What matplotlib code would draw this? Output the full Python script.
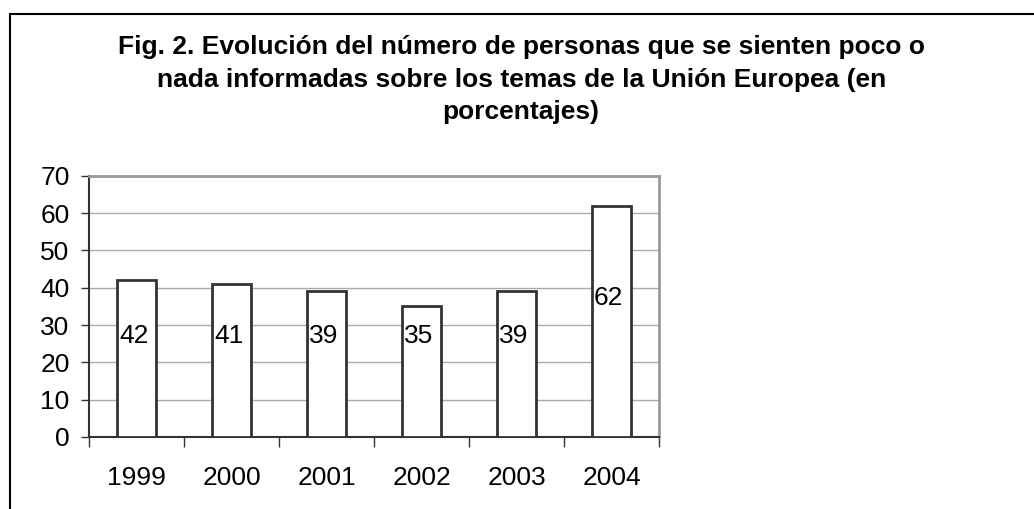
import matplotlib.pyplot as plt
from matplotlib.lines import Line2D
import numpy as np

plt.rcParams["font.family"] = ["Liberation Sans", "DejaVu Sans"]

years = ["1999", "2000", "2001", "2002", "2003", "2004"]
values = [42, 41, 39, 35, 39, 62]
title = ("Fig. 2. Evolución del número de personas que se sienten poco o\n"
         "nada informadas sobre los temas de la Unión Europea (en\n"
         "porcentajes)")

fig = plt.figure(figsize=(10.34, 5.09), dpi=100)
ax = fig.add_axes([0.0861, 0.1415, 0.5513, 0.5133])

x = np.arange(len(years))
ax.bar(x, values, width=0.41, color="white", edgecolor="#333333", linewidth=2.0, zorder=3)

# data labels, roughly where Excel put them (left side of the bar)
for xi, v in zip(x, values):
    ax.text(xi - 0.205 + 0.02, max(27, v * 0.6), str(v), ha="left", va="center",
            fontsize=19, color="black", zorder=4)

ax.set_xlim(-0.5, len(years) - 0.5)
ax.set_ylim(0, 70)
ax.set_yticks(range(0, 71, 10))
ax.yaxis.grid(True, color="#aaaaaa", linewidth=1.0, zorder=0)
ax.set_axisbelow(True)

# tick marks between categories, labels at centres
ax.set_xticks(np.arange(-0.5, len(years), 1.0))
ax.set_xticklabels([])
ax.set_xticks(x, minor=True)
ax.set_xticklabels(years, minor=True)
ax.tick_params(axis="x", which="major", length=7, width=1, color="#333333", direction="out")
ax.tick_params(axis="x", which="minor", length=0, pad=21, labelsize=19)
ax.tick_params(axis="y", length=6, width=1, color="#333333", pad=8, labelsize=19)

for side in ["left", "bottom"]:
    ax.spines[side].set_color("#333333")
    ax.spines[side].set_linewidth(1.5)
for side in ["top", "right"]:
    ax.spines[side].set_color("#999999")
    ax.spines[side].set_linewidth(2.0)

fig.text(0.504, 0.843, title, ha="center", va="center", fontsize=19,
         fontweight="bold", linespacing=1.45)

# outer frame of the chart object (left and top edges only are visible)
fig.add_artist(Line2D([10 / 1034, 10 / 1034], [0, 1 - 14 / 509], color="black", linewidth=1.5,
                      transform=fig.transFigure))
fig.add_artist(Line2D([10 / 1034, 1], [1 - 14 / 509, 1 - 14 / 509], color="black", linewidth=1.5,
                      transform=fig.transFigure))

fig.savefig("out.png", dpi=100)
